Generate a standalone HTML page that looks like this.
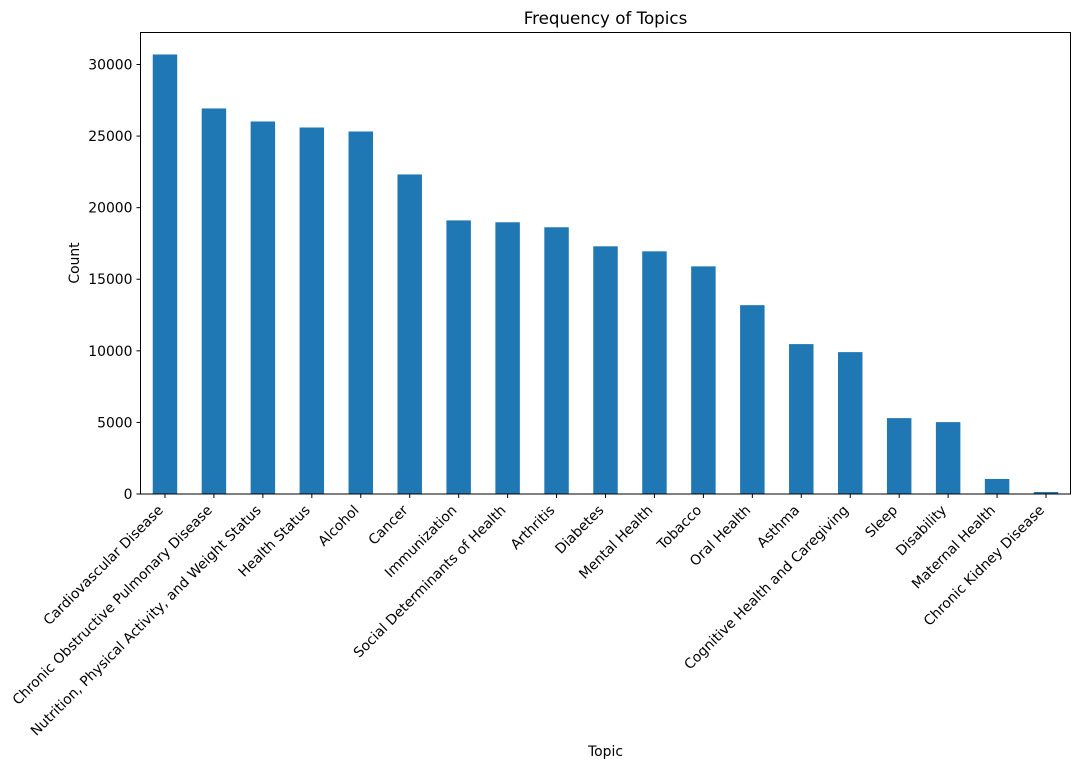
<!DOCTYPE html>
<html><head><meta charset="utf-8"><style>
body{margin:0;background:#fff;}
svg text{font-family:"DejaVu Sans","Liberation Sans",sans-serif;fill:#000;}
</style></head><body>
<svg id="chart" width="1081" height="769" xmlns="http://www.w3.org/2000/svg">
<text x="605.5" y="24" text-anchor="middle" font-size="16.7">Frequency of Topics</text>
<text transform="translate(79,263) rotate(-90)" text-anchor="middle" font-size="13.9">Count</text>
<text x="605.5" y="756" text-anchor="middle" font-size="13.9">Topic</text>
<g id="bars"></g><g id="xticks"></g><g id="yticks"></g>
<rect x="140.5" y="32.5" width="930" height="461.5" fill="none" stroke="#000" stroke-width="1"/>
</svg>
<script>
const categories=["Cardiovascular Disease","Chronic Obstructive Pulmonary Disease","Nutrition, Physical Activity, and Weight Status","Health Status","Alcohol","Cancer","Immunization","Social Determinants of Health","Arthritis","Diabetes","Mental Health","Tobacco","Oral Health","Asthma","Cognitive Health and Caregiving","Sleep","Disability","Maternal Health","Chronic Kidney Disease"];
const counts=[30700,26930,26020,25600,25320,22320,19110,18980,18630,17300,16950,15900,13190,10470,9910,5300,5020,1050,140];
const yTicks=[0,5000,10000,15000,20000,25000,30000];
const NS="http://www.w3.org/2000/svg";
const L=140.5,R=1070.5,B=494,T=32.5;
const yMax=32235;
const y=v=>B-(v/yMax)*(B-T);
const step=(R-L)/categories.length;
const x=i=>L+step*(i+0.5);
const bars=document.getElementById('bars'),xt=document.getElementById('xticks'),yt=document.getElementById('yticks');
function mk(t,a){const e=document.createElementNS(NS,t);for(const k in a)e.setAttribute(k,a[k]);return e;}
categories.forEach((c,i)=>{
  const r=mk('rect',{x:x(i)-step*0.25,y:y(counts[i]),width:step*0.5,height:B-y(counts[i]),fill:'#1f77b4'});
  
  
  bars.appendChild(r);
  const tk=mk('line',{x1:x(i),x2:x(i),y1:B,y2:B+4,stroke:'#000'});
  
  
  xt.appendChild(tk);
  const tx=mk('text',{transform:`translate(${x(i)-1},${B+17}) rotate(-45)`,'text-anchor':'end','font-size':'13.9'});
  tx.textContent=c;
  
  
  xt.appendChild(tx);
});
yTicks.forEach(v=>{
  const tk=mk('line',{x1:L-4,x2:L,y1:y(v),y2:y(v),stroke:'#000'});
  
  
  yt.appendChild(tk);
  const tx=mk('text',{x:L-8,y:y(v)+5,'text-anchor':'end','font-size':'13.9'});
  tx.textContent=v;
  
  
  yt.appendChild(tx);
});
</script>
</body></html>
